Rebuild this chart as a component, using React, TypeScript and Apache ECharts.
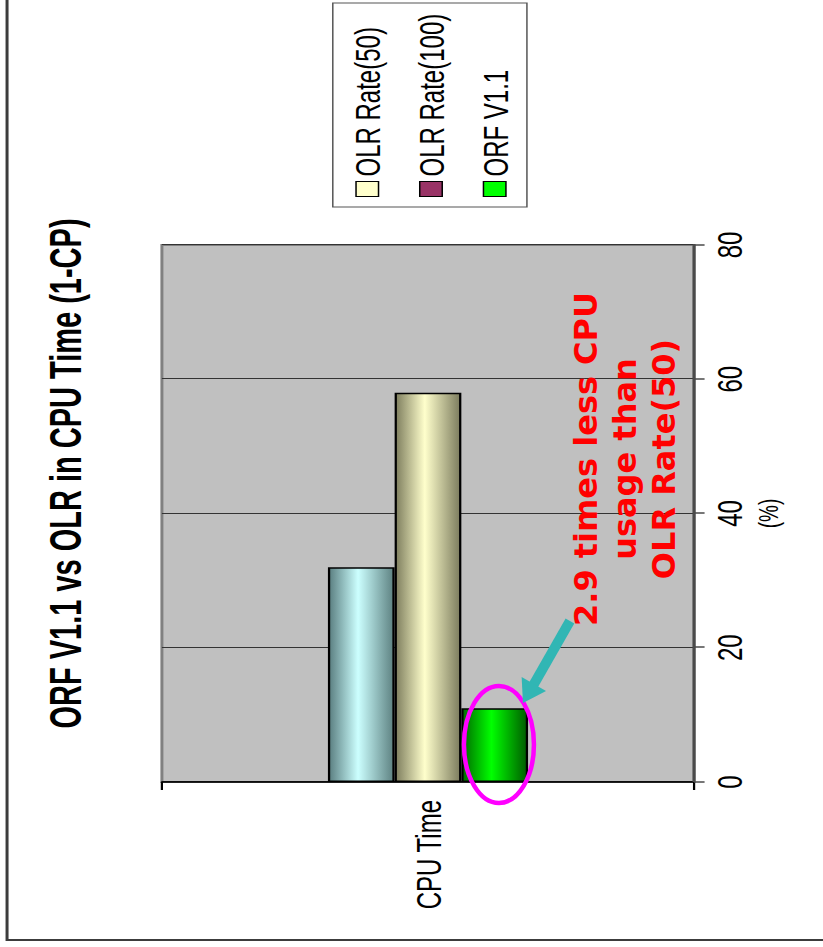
import React, { useEffect, useRef } from 'react';
import * as echarts from 'echarts';

// ---- data ----
const categories = ['CPU Time'];
const seriesNames = ['OLR Rate(50)', 'OLR Rate(100)', 'ORF V1.1'];
const olrRate50 = [32];
const olrRate100 = [58];
const orfV11 = [11];
const valueAxisMin = 0;
const valueAxisMax = 80;
const valueAxisStep = 20;
const legendSwatches = ['#ffffcc', '#993366', '#00ff00'];
const titleText = 'ORF V1.1 vs OLR in CPU Time (1-CP)';
const axisUnit = '(%)';
const noteLines = ['2.9 times less CPU', 'usage than', 'OLR Rate(50)'];

// ---- layout of the chart frame (drawn sideways, then turned upright with CSS) ----
const FRAME_W = 947;
const FRAME_H = 549;
const STRETCH = 823 / FRAME_H;
const FONT = '"Liberation Sans", Arial, sans-serif';

const shade = (edge: string, mid: string, edge2: string) =>
  new echarts.graphic.LinearGradient(0, 0, 0, 1, [
    { offset: 0, color: edge },
    { offset: 0.45, color: mid },
    { offset: 1, color: edge2 },
  ]);

const barFills = [
  shade('#5a7e80', '#ccffff', '#5e8282'),
  shade('#7e7e5e', '#ffffcc', '#7c7c5e'),
  shade('#006a00', '#00ff00', '#005c00'),
];
const seriesData = [olrRate50, olrRate100, orfV11];

export default function App() {
  const ref = useRef<HTMLDivElement>(null);

  useEffect(() => {
    if (!ref.current) return;
    const chart = echarts.init(ref.current, null, { renderer: 'svg' });

    const option: any = {
      animation: false,
      backgroundColor: '#ffffff',
      title: {
        text: titleText,
        left: 'center',
        top: 25,
        textStyle: { fontSize: 29, fontWeight: 'bold', fontFamily: FONT, color: '#000' },
      },
      legend: {
        data: seriesNames.map((name, i) => ({
          name,
          itemStyle: { color: legendSwatches[i], borderColor: '#000', borderWidth: 1 },
        })),
        orient: 'vertical',
        left: 750,
        top: 233,
        padding: 0,
        itemWidth: 15,
        itemHeight: 15,
        itemGap: 18.5,
        icon: 'rect',
        selectedMode: false,
        textStyle: { fontSize: 24, fontFamily: FONT, color: '#000' },
      },
      grid: {
        left: 165,
        right: 245,
        top: 108,
        bottom: 86,
        show: true,
        backgroundColor: '#c0c0c0',
        borderColor: '#808080',
        borderWidth: 2,
      },
      xAxis: {
        type: 'value',
        min: valueAxisMin,
        max: valueAxisMax,
        interval: valueAxisStep,
        name: axisUnit,
        nameLocation: 'middle',
        nameGap: 31,
        nameTextStyle: { fontSize: 19, fontFamily: FONT, color: '#000' },
        axisLine: { show: true, lineStyle: { color: '#4a4a4a', width: 2 } },
        axisTick: { show: true, length: 7, lineStyle: { color: '#4a4a4a', width: 1.5 } },
        axisLabel: { fontSize: 24, margin: 11, fontFamily: FONT, color: '#000' },
        splitLine: { show: true, lineStyle: { color: '#333', width: 1 } },
      },
      yAxis: {
        type: 'category',
        data: categories,
        axisLine: { show: true, lineStyle: { color: '#000', width: 1.5 } },
        axisTick: { show: true, length: 8, lineStyle: { color: '#000', width: 1.5 } },
        axisLabel: { fontSize: 24, margin: 18, fontFamily: FONT, color: '#000' },
        splitLine: { show: false },
      },
      series: seriesNames.map((name, i) => ({
        name,
        type: 'bar',
        data: seriesData[i],
        barWidth: 44.5,
        barGap: '0%',
        itemStyle: { color: barFills[i], borderColor: '#000', borderWidth: 1.5 },
      })),
      graphic: [
        {
          type: 'rect',
          silent: true,
          shape: { x: 7, y: 4.7, width: 1000, height: 600 },
          style: { fill: 'none', stroke: '#3c3c3c', lineWidth: 2 },
        },
        {
          type: 'rect',
          silent: true,
          shape: { x: 740, y: 222, width: 204, height: 129.5 },
          style: { fill: 'none', stroke: '#555', lineWidth: 1 },
        },
        {
          // callout drawn in upright proportions
          type: 'group',
          scaleY: 1 / STRETCH,
          children: [
            {
              type: 'ellipse',
              z: 20,
              shape: { cx: 202.5, cy: 499, rx: 58.5, ry: 35 },
              style: { fill: 'none', stroke: '#ff00ff', lineWidth: 4.5 },
            },
            {
              type: 'line',
              z: 20,
              shape: { x1: 326, y1: 570, x2: 262, y2: 533.5 },
              style: { stroke: '#31b6b4', lineWidth: 10 },
            },
            {
              type: 'polygon',
              z: 20,
              shape: { points: [[244, 523], [270.1, 521.7], [256.1, 546.1]] },
              style: { fill: '#31b6b4' },
            },
            {
              type: 'text',
              z: 21,
              x: 488,
              y: 625,
              style: {
                text: noteLines.join('\n'),
                fill: '#ff0000',
                fontSize: 32,
                fontWeight: 'bold',
                fontFamily: '"DejaVu Sans", Verdana, sans-serif',
                align: 'center',
                verticalAlign: 'middle',
                lineHeight: 39,
              },
            },
          ],
        },
      ],
    };

    chart.setOption(option);
    return () => chart.dispose();
  }, []);

  return (
    <div
      style={{
        position: 'absolute',
        left: 0,
        top: 0,
        width: 823,
        height: 947,
        overflow: 'hidden',
        background: '#ffffff',
      }}
    >
      <div
        ref={ref}
        style={{
          position: 'absolute',
          left: 0,
          top: 0,
          width: FRAME_W,
          height: FRAME_H,
          transformOrigin: '0 0',
          transform: `translateY(${FRAME_W}px) rotate(-90deg) scaleY(${STRETCH})`,
        }}
      />
    </div>
  );
}
